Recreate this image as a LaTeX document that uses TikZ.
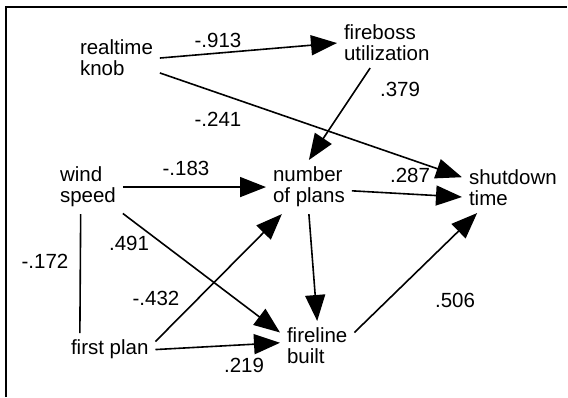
\documentclass[tikz,border=0pt]{standalone}
\usepackage{fontspec}
\setmainfont{Liberation Sans}
\usetikzlibrary{arrows.meta}
\tikzset{
  var/.style  = { anchor=north west, align=left, inner sep=0pt, outer sep=7pt,
                  font=\fontsize{20.5}{21}\selectfont },
  coef/.style = { inner sep=0pt, font=\fontsize{20.5}{21}\selectfont },
}

\begin{document}
\begin{tikzpicture}[
  x=1pt,y=-1pt,
  >={Triangle[length=26pt,width=20pt]},line width=1.6pt
]
  \useasboundingbox (0,0) rectangle (568,397);
  \draw (6,397) -- (6,7) -- (567,7);

  % variables (outer sep 7pt sits round the text)
  \node (realtime) [var] at (73,33)   {realtime\\knob};
  \node (fireboss) [var] at (337,18)  {fireboss\\utilization};
  \node (wind)     [var] at (53,160)  {wind\\speed};
  \node (number)   [var] at (266,160) {number\\of plans};
  \node (shutdown) [var] at (462,163) {shutdown\\time};
  \node (first)    [var] at (64,333)  {first plan};
  \node (fireline) [var] at (280,321) {fireline\\built};

  % path coefficients
  \node (c913) [coef] at (218,40)  {-.913};
  \node (c379) [coef] at (400,89)  {.379};
  \node (c241) [coef] at (218,119) {-.241};
  \node (c183) [coef] at (186,168) {-.183};
  \node (c287) [coef] at (410,175) {.287};
  \node (c491) [coef] at (129,243) {.491};
  \node (c172) [coef] at (45,261)  {-.172};
  \node (c432) [coef] at (156,298) {-.432};
  \node (c506) [coef] at (455,300) {.506};
  \node (c219) [coef] at (244,365) {.219};

  \draw [->] (realtime.east) -- (fireboss.west);
  \draw [->] (realtime)      -- (shutdown.168);
  \draw [->] (fireboss)      -- (number.north);
  \draw [->] (wind)          -- (number);
  \draw [->] (number.355)    -- (shutdown.190);
  \draw [->] (wind)          -- (fireline.160);
  \draw [->] (first.10)      -- (number.225);
  \draw [->] (number.south)  -- (fireline.north);
  \draw [->] (first.east)    -- (fireline.175);
  \draw [->] (fireline.20)   -- (shutdown.215);
  \draw      (wind.255)      -- (first.151);
\end{tikzpicture}
\end{document}
